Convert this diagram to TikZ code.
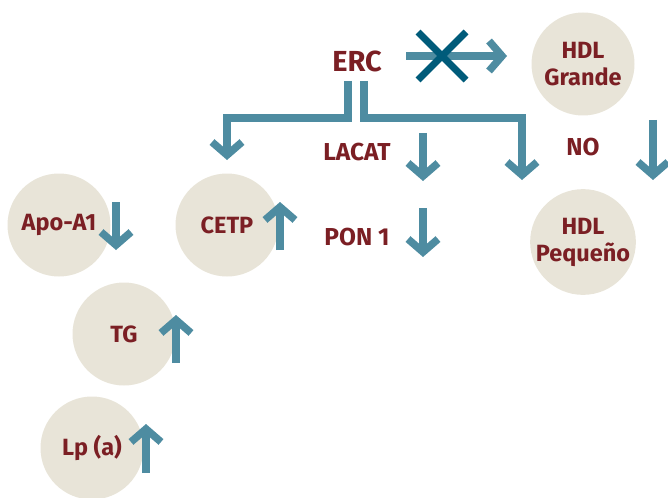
\documentclass[tikz,border=0pt]{standalone}
\usepackage{fontspec}
\setmainfont{Fira Sans}
\usetikzlibrary{arrows.meta}

\definecolor{ercred}{HTML}{7B1F24}
\definecolor{ercteal}{HTML}{4E8CA1}
\definecolor{ercdark}{HTML}{005B7A}
\definecolor{ercbeige}{HTML}{E8E4D8}

\tikzset{
	blob/.style={circle, fill=ercbeige, minimum size=103pt, inner sep=0pt,
		text=ercred, align=center, font=\bfseries\fontsize{23.5}{27}\selectfont},
	lbl/.style={text=ercred, inner sep=0pt, font=\bfseries\fontsize{24.5}{27}\selectfont},
	ind/.style={draw=ercteal, line width=7.5pt, line join=miter,
		-{Straight Barb[length=13pt,width=30pt]}},
	cross/.style={draw=ercdark, line width=7pt},
}

\begin{document}
\begin{tikzpicture}[x=1pt, y=-1pt]
	\useasboundingbox (0,0) rectangle (668,497);

	% circles
	\node [blob] (apo)  at (59,225)   {Apo-A1};
	\node [blob] (cetp) at (227,225)  {CETP};
	\node [blob] (tg)   at (124,334)  {TG};
	\node [blob] (lpa)  at (92,448)   {Lp (a)};
	\node [blob] (hdlg) at (583,64)   {HDL\\Grande};
	\node [blob] (hdlp) at (583,242)  {HDL\\Pequeño};

	% labels
	\node [lbl, font=\bfseries\fontsize{29}{32}\selectfont] (erc) at (357,61) {ERC};
	\node [lbl] (lacat) at (357,152) {LACAT};
	\node [lbl] (pon)   at (357,237) {PON 1};
	\node [lbl] (no)    at (583,147) {NO};

	% ERC branches
	\coordinate (bl) at (348,81);
	\coordinate (br) at (364,81);
	\coordinate (tl) at (227,160);
	\coordinate (tr) at (522,180);
	\draw [ind] (bl) |- (300,118) -| (tl);
	\draw [ind] (br) |- (450,118) -| (tr);

	% blocked arrow to HDL Grande
	\coordinate (hs) at (406,56);
	\coordinate (he) at (507,56);
	\draw [ind] (hs) -- (he);
	\draw [cross] (418,32) -- (466,80);
	\draw [cross] (418,80) -- (466,32);

	% up / down indicators
	\coordinate (apoA) at (116,202);  \coordinate (apoB) at (116,250);
	\coordinate (cetpA) at (280,250); \coordinate (cetpB) at (280,202);
	\coordinate (tgA) at (176,363);   \coordinate (tgB) at (176,315);
	\coordinate (lpaA) at (146,473);  \coordinate (lpaB) at (146,424);
	\coordinate (lacA) at (423,133);  \coordinate (lacB) at (423,181);
	\coordinate (ponA) at (423,208);  \coordinate (ponB) at (423,257);
	\coordinate (noA) at (653,120);   \coordinate (noB) at (653,180);
	\draw [ind] (apoA) -- (apoB);
	\draw [ind] (cetpA) -- (cetpB);
	\draw [ind] (tgA) -- (tgB);
	\draw [ind] (lpaA) -- (lpaB);
	\draw [ind] (lacA) -- (lacB);
	\draw [ind] (ponA) -- (ponB);
	\draw [ind] (noA) -- (noB);
\end{tikzpicture}
\end{document}
